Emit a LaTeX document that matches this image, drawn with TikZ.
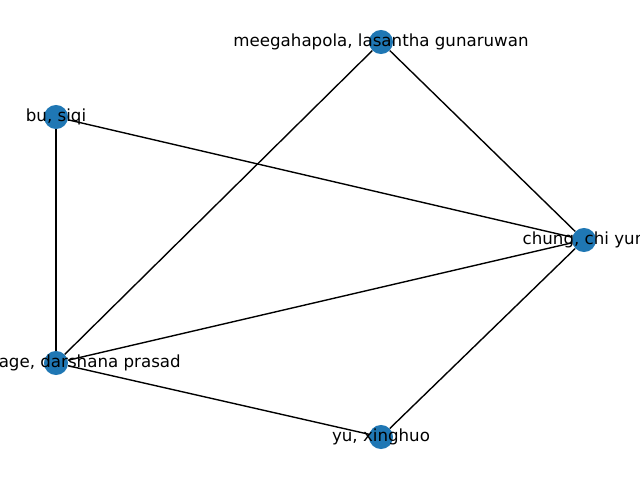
\documentclass[tikz,border=0pt]{standalone}
\usepackage{fontspec}
\setmainfont{DejaVu Sans}
\usepackage{xcolor}
\definecolor{nxblue}{HTML}{1F77B4}

\begin{document}
\begin{tikzpicture}[x=0.72pt, y=-0.72pt,
    author/.style={circle, fill=nxblue, inner sep=0pt, minimum size=17.3pt},
    authorname/.style={inner sep=0pt, font=\fontsize{12}{14}\selectfont},
    link/.style={line width=1pt}]
        \useasboundingbox (0,0) rectangle (640,480);
        \clip (0,0) rectangle (640,480);

        \node[author] (meega) at (381,42) {};
        \node[author] (bu) at (56,117) {};
        \node[author] (chung) at (584,240) {};
        \node[author] (darshana) at (56,363) {};
        \node[author] (yu) at (381,437) {};

        \draw[link] (bu) -- (chung);
        \draw[link] (bu) -- (darshana);
        \draw[link] (meega) -- (darshana);
        \draw[link] (meega) -- (chung);
        \draw[link] (chung) -- (darshana);
        \draw[link] (chung) -- (yu);
        \draw[link] (darshana) -- (yu);

        \node[authorname] (meega_l) at (meega) {meegahapola, lasantha gunaruwan};
        \node[authorname] (bu_l) at (bu) {bu, siqi};
        \node[authorname] (chung_l) at (chung) {chung, chi yun};
        \node[authorname, anchor=east] (darshana_l) at (181,363) {age, darshana prasad};
        \node[authorname] (yu_l) at (yu) {yu, xinghuo};
    \end{tikzpicture}
\end{document}
